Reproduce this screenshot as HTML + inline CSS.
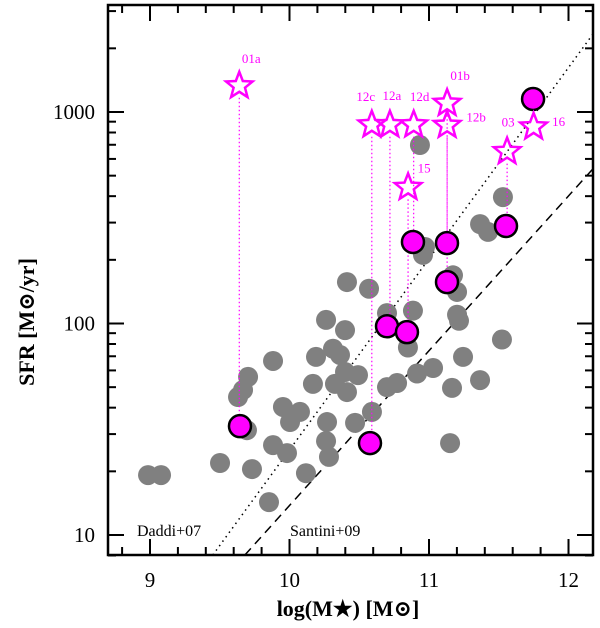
<!DOCTYPE html>
<html><head><meta charset="utf-8"><style>
body{margin:0;background:#fff}
svg{display:block}
text{font-family:"Liberation Serif","DejaVu Serif",serif}
</style></head><body>
<svg id="chart" width="600" height="628" viewBox="0 0 600 628" xmlns="http://www.w3.org/2000/svg"></svg>
<script>
const xTicks=[9,10,11,12];
const yTicks=[10,100,1000];
const yTickLabels=["10","100","1000"];
const grayX=[10.935,11.53,11.366,11.423,10.971,10.957,11.172,11.201,10.412,10.57,10.699,10.885,11.201,11.215,10.262,10.398,11.523,10.849,10.312,10.362,10.19,9.882,11.244,10.398,10.491,10.914,11.029,10.168,10.326,10.412,10.699,10.771,11.366,11.165,9.703,9.667,9.631,9.695,9.953,10.075,10.004,10.269,10.47,10.591,10.262,9.882,9.982,10.283,11.151,9.502,9.731,10.118,8.986,9.079,9.853];
const graySFR=[698,396,295,271,230,211,169,141,157,146,112,115,110,103,104,93,84,77,76,71,69.5,66.5,69.5,59,57,58,61.6,51.8,51.8,47.4,50,52.3,54,49.6,55.9,48.5,44.9,31.3,40.3,38.2,34.2,34.2,33.9,38.2,27.8,26.6,24.4,23.4,27.2,21.9,20.5,19.6,19.2,19.2,14.3];
const magX=[11.746,11.552,10.885,11.129,11.129,10.699,10.842,9.645,10.577];
const magSFR=[1152,289,243,240,157,97,91,32.7,27.2];
const starNames=["01a","12c","12a","12d","01b","12b","03","16","15"];
const starX=[9.64,10.59,10.72,10.89,11.13,11.13,11.56,11.75,10.85];
const starSFR=[1330,870,870,870,1100,865,650,850,440];
const starToX=[9.64,10.58,10.71,10.89,11.13,11.13,11.56,null,10.85];
const starToSFR=[33,27,96,243,235,156,290,null,90];
const labDX=[12,-6,2,6,13,29,1,25,16];
const labDY=[-23,-24,-25,-24,-23,-4,-25,-1,-15];
const daddiLine=[[9.45,8.04],[12.18,2360]];
const santiniLine=[[9.68,8.04],[12.18,543]];

const svg=document.getElementById('chart');
const NS='http://www.w3.org/2000/svg';
const L=108,R=593,T=5,B=555;
function X(v){return 150+(v-9)*139.5;}
function Y(s){return 112-(Math.log10(s)-3)*211.5;}
function mk(tag,attrs,name,parent){const e=document.createElementNS(NS,tag);for(const k in attrs)e.setAttribute(k,attrs[k]);


(parent||svg).appendChild(e);return e;}

mk('line',{x1:X(daddiLine[0][0]),y1:Y(daddiLine[0][1]),x2:X(daddiLine[1][0]),y2:Y(daddiLine[1][1]),stroke:'#000','stroke-width':1.5,'stroke-dasharray':'1.5,4'},'daddi-line');
mk('line',{x1:X(santiniLine[0][0]),y1:Y(santiniLine[0][1]),x2:X(santiniLine[1][0]),y2:Y(santiniLine[1][1]),stroke:'#000','stroke-width':1.5,'stroke-dasharray':'9,6'},'santini-line');

grayX.forEach((x,i)=>{mk('circle',{cx:X(x),cy:Y(graySFR[i]),r:10,fill:'#808080'},'gray-point');});
starX.forEach((x,i)=>{if(starToX[i]===null)return;
mk('line',{x1:X(x),y1:Y(starSFR[i])+12,x2:X(x),y2:Y(starToSFR[i]),stroke:'#ff00ff','stroke-width':1.2,'stroke-dasharray':'1.5,2.5'},'star-connector');});
magX.forEach((x,i)=>{mk('circle',{cx:X(x),cy:Y(magSFR[i]),r:11,fill:'#ff00ff',stroke:'#000','stroke-width':2.5},'magenta-point');});
function starPts(cx,cy,ro,ri){let p=[];for(let k=0;k<10;k++){const a=-Math.PI/2+k*Math.PI/5;const r=k%2?ri:ro;p.push((cx+r*Math.cos(a)).toFixed(1)+','+(cy+r*Math.sin(a)).toFixed(1));}return p.join(' ');}
starX.forEach((x,i)=>{const cx=X(x),cy=Y(starSFR[i]);
mk('polygon',{points:starPts(cx,cy,14,6),fill:'none',stroke:'#ff00ff','stroke-width':2.5},'star-'+starNames[i]);
const t=mk('text',{x:cx+labDX[i],y:cy+labDY[i],'font-size':13,fill:'#ff00ff','text-anchor':'middle','font-family':'Liberation Sans, sans-serif'},'star-label-'+starNames[i]);t.textContent=starNames[i];});

mk('rect',{x:L,y:T,width:R-L,height:B-T,fill:'none',stroke:'#000','stroke-width':2.5},'plot-frame');
for(let v=8.8;v<=12.2;v+=0.2){const vv=Math.round(v*10)/10;if(X(vv)<L||X(vv)>R)continue;const maj=Math.abs(vv-Math.round(vv))<1e-6;const len=maj?16:8;
mk('line',{x1:X(vv),y1:B,x2:X(vv),y2:B-len,stroke:'#000','stroke-width':2},'x-tick');
mk('line',{x1:X(vv),y1:T,x2:X(vv),y2:T+len,stroke:'#000','stroke-width':2},'x-tick-top');}
xTicks.forEach(v=>{const t=mk('text',{x:X(v),y:587,'font-size':21,'text-anchor':'middle'},'x-tick-label');t.textContent=v;});
for(let d=1;d<=3;d++){for(let m=1;m<=9;m++){const val=m*Math.pow(10,d);const yy=Y(val);if(yy<T||yy>B)continue;const len=m===1?16:8;
mk('line',{x1:L,y1:yy,x2:L+len,y2:yy,stroke:'#000','stroke-width':2},'y-tick');
mk('line',{x1:R,y1:yy,x2:R-len,y2:yy,stroke:'#000','stroke-width':2},'y-tick-right');}}
{const yy=Y(8);mk('line',{x1:L,y1:yy,x2:L+8,y2:yy,stroke:'#000','stroke-width':2},'y-tick');mk('line',{x1:R,y1:yy,x2:R-8,y2:yy,stroke:'#000','stroke-width':2},'y-tick-right');}
yTicks.forEach((v,i)=>{const t=mk('text',{x:95,y:Y(v)+7,'font-size':21,'text-anchor':'end'},'y-tick-label');t.textContent=yTickLabels[i];});
const xt=mk('text',{x:348,y:616,'font-size':22,'text-anchor':'middle','font-weight':'bold'},'x-axis-title');xt.textContent='log(M\u2605) [M\u2299]';
const yt=mk('text',{x:0,y:0,'font-size':22,'text-anchor':'middle','font-weight':'bold',transform:'translate(34,322) rotate(-90)'},'y-axis-title');yt.textContent='SFR [M\u2299/yr]';
const a1=mk('text',{x:137,y:536,'font-size':16},'daddi-label');a1.textContent='Daddi+07';
const a2=mk('text',{x:290,y:536,'font-size':16},'santini-label');a2.textContent='Santini+09';
</script>
</body></html>
